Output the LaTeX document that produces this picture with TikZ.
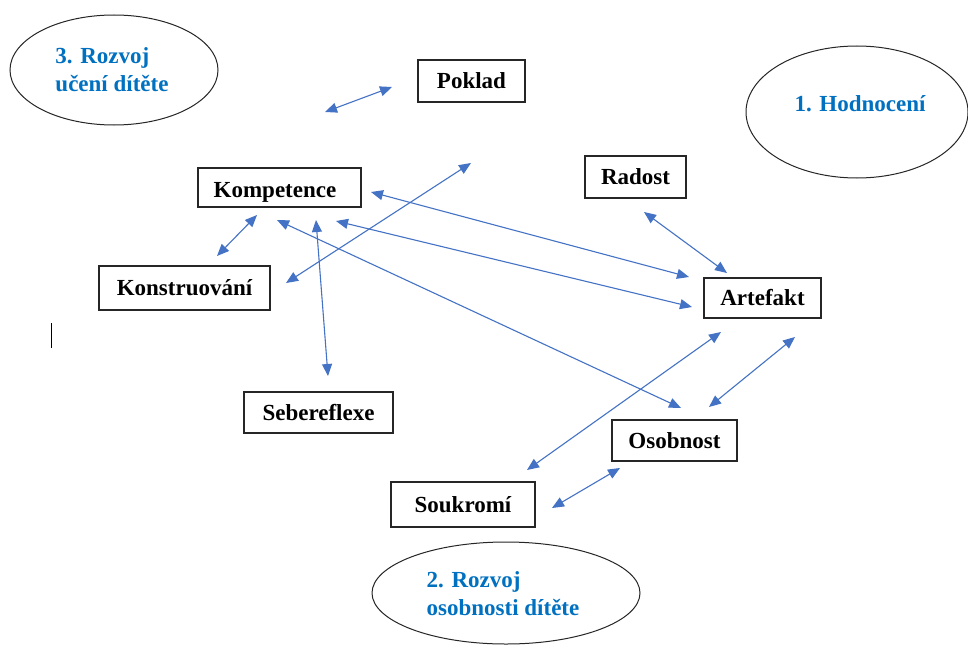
\documentclass[tikz,border=0pt]{standalone}
\usepackage{fontspec}
\setmainfont{Liberation Serif}
\usetikzlibrary{arrows.meta,shapes.geometric}
\definecolor{arrowblue}{HTML}{4472C4}
\definecolor{textblue}{HTML}{0070C0}
\definecolor{boxline}{HTML}{262626}
\tikzset{
  box/.style={draw=boxline, line width=1.3pt, inner sep=0pt, font=\fontsize{23}{28}\selectfont\bfseries},
  boxtext/.style={inner sep=0pt, anchor=base, font=\fontsize{23}{28}\selectfont\bfseries},
  oval/.style={ellipse, draw=boxline, line width=1pt, inner sep=0pt},
  ovaltext/.style={text=textblue, align=left, inner sep=0pt, font=\fontsize{23}{28}\selectfont\bfseries},
  link/.style={draw=arrowblue, line width=1.1pt, {Triangle[length=12pt,width=10pt]}-{Triangle[length=12pt,width=10pt]}},
  cursor/.style={draw=black, line width=0.8pt}
}
\begin{document}
\begin{tikzpicture}[x=1pt,y=-1pt]
\useasboundingbox[fill=white] (0,0) rectangle (968,650);
% ovals
\node[oval, minimum width=208pt, minimum height=110pt] (e3) at (114,70) {};
\node[ovaltext] (t3) at (112,70) {3. Rozvoj\\učení dítěte};
\node[oval, minimum width=222pt, minimum height=132pt] (e1) at (857,112) {};
\node[ovaltext] (t1) at (860,104) {1. Hodnocení};
\node[oval, minimum width=268pt, minimum height=102pt] (e2) at (506,593) {};
\node[ovaltext] (t2) at (503,594) {2. Rozvoj\\osobnosti dítěte};
% boxes
\node[box, minimum width=107pt, minimum height=42pt] (poklad) at (471.5,81) {Poklad\hspace{8pt}};
\node[box, minimum width=163pt, minimum height=39pt] (komp) at (279.5,187.5) {};
\begin{scope}
  \clip (komp.north west) rectangle ([yshift=-8pt]komp.south east);
  \node[boxtext] (kompt) at (275,197) {Kompetence};
\end{scope}
\node[box, minimum width=171pt, minimum height=44pt] (konst) at (184.5,288) {Konstruování\hspace{5pt}};
\node[box, minimum width=101pt, minimum height=42pt] (radost) at (635.5,177) {Radost};
\node[box, minimum width=117pt, minimum height=40pt] (artef) at (762.5,298) {Artefakt};
\node[box, minimum width=125pt, minimum height=41pt] (osob) at (674.5,440.5) {Osobnost};
\node[box, minimum width=149pt, minimum height=41pt] (sebe) at (318.5,412.5) {Sebereflexe\hspace{7pt}};
\node[box, minimum width=144pt, minimum height=45pt] (souk) at (463,504.5) {Soukromí\hspace{18pt}};
% connector ends
\coordinate (p1a) at (325,112); \coordinate (p1b) at (392,87);
\coordinate (p2a) at (286,283); \coordinate (p2b) at (471,163);
\coordinate (p3a) at (217,256); \coordinate (p3b) at (257,215);
\coordinate (p4a) at (371,192); \coordinate (p4b) at (689,277);
\coordinate (p5a) at (336,221); \coordinate (p5b) at (692,307);
\coordinate (p6a) at (277,220); \coordinate (p6b) at (681,408);
\coordinate (p7a) at (316,220); \coordinate (p7b) at (328,376);
\coordinate (p8a) at (644,212); \coordinate (p8b) at (727,273);
\coordinate (p9a) at (721,332); \coordinate (p9b) at (527,470);
\coordinate (p10a) at (795,337); \coordinate (p10b) at (709,407);
\coordinate (p11a) at (552,508); \coordinate (p11b) at (620,468);
% connectors
\draw[link] (p1a) -- (p1b);
\draw[link] (p2a) -- (p2b);
\draw[link] (p3a) -- (p3b);
\draw[link] (p4a) -- (p4b);
\draw[link] (p5a) -- (p5b);
\draw[link] (p6a) -- (p6b);
\draw[link] (p7a) -- (p7b);
\draw[link] (p8a) -- (p8b);
\draw[link] (p9a) -- (p9b);
\draw[link] (p10a) -- (p10b);
\draw[link] (p11a) -- (p11b);
% text cursor
\coordinate (c1) at (51,323); \coordinate (c2) at (51,348);
\draw[cursor] (c1) -- (c2);
\end{tikzpicture}
\end{document}
